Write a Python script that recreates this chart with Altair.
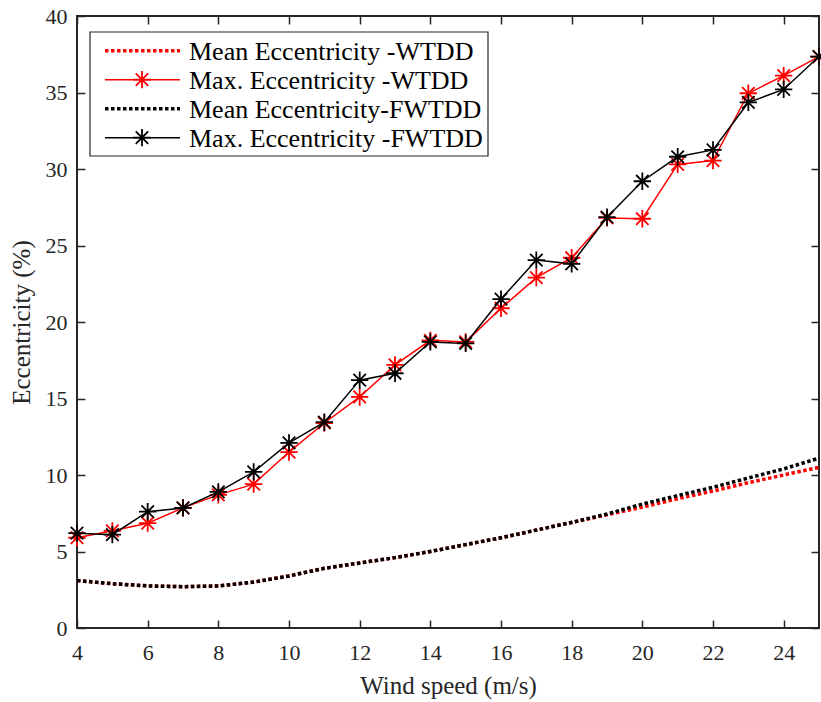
import altair as alt
import pandas as pd

wind_speed = list(range(4, 26))
mean_wtdd = [3.1, 2.9, 2.75, 2.7, 2.75, 3.0, 3.4, 3.9, 4.25, 4.6, 5.0, 5.45, 5.9, 6.4, 6.9, 7.4, 7.9, 8.45, 8.95, 9.5, 10.0, 10.5]
max_wtdd = [5.9, 6.35, 6.85, 7.85, 8.7, 9.4, 11.5, 13.4, 15.1, 17.2, 18.8, 18.7, 20.9, 22.9, 24.2, 26.8, 26.75, 30.3, 30.55, 34.95, 36.1, 37.35]
mean_fwtdd = [3.1, 2.9, 2.75, 2.7, 2.75, 3.0, 3.4, 3.9, 4.25, 4.6, 5.0, 5.45, 5.9, 6.4, 6.9, 7.45, 8.1, 8.65, 9.2, 9.8, 10.4, 11.1]
max_fwtdd = [6.2, 6.1, 7.6, 7.85, 8.9, 10.2, 12.1, 13.45, 16.2, 16.65, 18.7, 18.6, 21.5, 24.05, 23.8, 26.85, 29.2, 30.8, 31.25, 34.35, 35.2, 37.35]

x_ticks = list(range(4, 25, 2))
y_ticks = list(range(0, 41, 5))

legend_labels = ["Mean Eccentricity -WTDD", "Max. Eccentricity -WTDD",
                 "Mean Eccentricity-FWTDD", "Max. Eccentricity -FWTDD"]
legend_colors = ["#ff0000", "#ff0000", "#000000", "#000000"]
legend_dotted = [True, False, True, False]

FONT = "Liberation Serif"
AX = "#262626"
ASTERISK = "M-1,0L1,0M0,-1L0,1M-0.72,-0.72L0.72,0.72M-0.72,0.72L0.72,-0.72"
MSIZE = 300
MSW = 1.8

xscale = alt.Scale(domain=[4, 25], nice=False, zero=False)
yscale = alt.Scale(domain=[0, 40], nice=False, zero=False)

def df(vals):
    return pd.DataFrame({"ws": wind_speed, "v": vals})

main_x_axis = alt.Axis(values=x_ticks, title="Wind speed (m/s)", offset=-8, tickSize=8,
                       domain=False, grid=False, labelFlush=False, labelPadding=14,
                       titlePadding=10, labelOverlap=False)
main_y_axis = alt.Axis(values=y_ticks, title="Eccentricity (%)", offset=-8, tickSize=8,
                       domain=False, grid=False, labelFlush=False, labelPadding=10,
                       titlePadding=11, labelOverlap=False)
top_axis = alt.Axis(values=x_ticks, orient="top", offset=-8, tickSize=8, domain=False,
                    grid=False, labels=False, title="")
right_axis = alt.Axis(values=y_ticks, orient="right", offset=-8, tickSize=8, domain=False,
                      grid=False, labels=False, title="")

dotted = [3.5, 2.5]

l_red_mean = alt.Chart(df(mean_wtdd)).mark_line(color="#ff0000", strokeWidth=3.5, strokeDash=dotted).encode(
    x=alt.X("ws:Q", scale=xscale, axis=main_x_axis),
    y=alt.Y("v:Q", scale=yscale, axis=main_y_axis))
l_red_max = alt.Chart(df(max_wtdd)).mark_line(color="#ff0000", strokeWidth=1.5).encode(
    x=alt.X("ws:Q", scale=xscale, axis=None),
    y=alt.Y("v:Q", scale=yscale, axis=None))
p_red_max = alt.Chart(df(max_wtdd)).mark_point(shape=ASTERISK, size=MSIZE, filled=False,
                                               color="#ff0000", strokeWidth=MSW, opacity=1).encode(
    x=alt.X("ws:Q", scale=xscale, axis=None),
    y=alt.Y("v:Q", scale=yscale, axis=None))
l_blk_mean = alt.Chart(df(mean_fwtdd)).mark_line(color="#000000", strokeWidth=3.5, strokeDash=dotted).encode(
    x=alt.X("ws:Q", scale=xscale, axis=None),
    y=alt.Y("v:Q", scale=yscale, axis=None))
l_blk_max = alt.Chart(df(max_fwtdd)).mark_line(color="#000000", strokeWidth=1.5).encode(
    x=alt.X("ws:Q", scale=xscale, axis=top_axis),
    y=alt.Y("v:Q", scale=yscale, axis=right_axis))
p_blk_max = alt.Chart(df(max_fwtdd)).mark_point(shape=ASTERISK, size=MSIZE, filled=False,
                                                color="#000000", strokeWidth=MSW, opacity=1).encode(
    x=alt.X("ws:Q", scale=xscale, axis=None),
    y=alt.Y("v:Q", scale=yscale, axis=None))

# legend (layout only)
box = alt.Chart(pd.DataFrame({"k": [0]})).mark_rect(fill="white", stroke=AX, strokeWidth=1.2).encode(
    x=alt.value(13), x2=alt.value(411), y=alt.value(16), y2=alt.value(140))
legend_layers = [box]
for i, (lab, col, dot) in enumerate(zip(legend_labels, legend_colors, legend_dotted)):
    yy = 34.7 + 29 * i
    d = pd.DataFrame({"label": [lab]})
    if dot:
        legend_layers.append(alt.Chart(d).mark_rule(color=col, strokeWidth=3.5, strokeDash=dotted).encode(
            x=alt.value(28), x2=alt.value(103), y=alt.value(yy)))
    else:
        legend_layers.append(alt.Chart(d).mark_rule(color=col, strokeWidth=1.5).encode(
            x=alt.value(28), x2=alt.value(103), y=alt.value(yy)))
        legend_layers.append(alt.Chart(d).mark_point(shape=ASTERISK, size=MSIZE, filled=False,
                                                     color=col, strokeWidth=MSW, opacity=1).encode(
            x=alt.value(65), y=alt.value(yy)))
    legend_layers.append(alt.Chart(d).mark_text(align="left", baseline="middle", font=FONT,
                                                fontSize=26, color="#000000", dy=1).encode(
        x=alt.value(112), y=alt.value(yy), text="label:N"))

chart = alt.layer(l_red_mean, l_red_max, p_red_max, l_blk_mean, l_blk_max, p_blk_max,
                  *legend_layers).resolve_axis(x="independent", y="independent").properties(
    width=742, height=612,
    autosize=alt.AutoSizeParams(type="none"),
    padding={"left": 77, "top": 16, "right": 2, "bottom": 74},
    background="white",
).configure_view(stroke=AX, strokeWidth=2).configure_axis(
    labelFont=FONT, labelFontSize=22, labelColor=AX,
    titleFont=FONT, titleFontSize=25, titleColor=AX, titleFontWeight="normal",
    tickColor=AX, tickWidth=1.5,
)

chart.save("out.html", embed_options={"renderer": "svg", "actions": False})
